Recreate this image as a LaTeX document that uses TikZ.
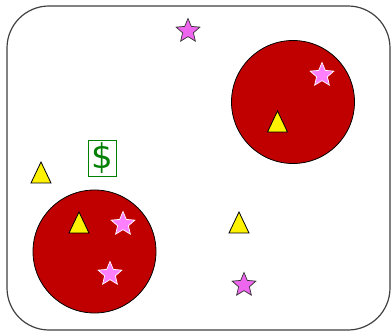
\documentclass[tikz,border=0pt]{standalone}
\usepackage{fontspec}
\newfontfamily\dollarfont{DejaVu Sans}
\usetikzlibrary{shapes.geometric}
\definecolor{cellred}{RGB}{192,0,0}
\definecolor{starpink}{RGB}{238,102,238}
\definecolor{starlight}{RGB}{255,128,255}
\definecolor{money}{RGB}{0,128,0}
\tikzset{
  frame/.style={draw=black!75, line width=1.2pt, rounded corners=42pt, fill=white},
  cell/.style={circle, draw=black, line width=0.8pt, fill=cellred, minimum size=123pt, inner sep=0pt},
  starout/.style={star, star points=5, star point ratio=2.2, minimum size=25pt, inner sep=0pt, fill=starpink, draw=black!80, line width=0.7pt},
  starin/.style={star, star points=5, star point ratio=2.2, minimum size=25pt, inner sep=0pt, fill=starlight, draw=white, line width=0.7pt},
  tri/.style={fill=yellow, draw=black, line width=0.8pt, line join=miter},
  dollarbox/.style={draw=money, line width=0.8pt, minimum width=28pt, minimum height=36pt, inner sep=0pt},
  dollar/.style={text=money, inner sep=0pt, font=\dollarfont\fontsize{34}{36}\selectfont}
}
\begin{document}
\begin{tikzpicture}[x=1pt,y=-1pt]
\useasboundingbox (0,0) rectangle (391,331);
\path[frame] (7,6) rectangle (390,330);
\node[cell] (c1) at (94.5,251.5) {};
\node[cell] (c2) at (293,102) {};
\node[dollarbox] (d) at (102.5,158.5) {};
\node[dollar] (dt) at (d.center) {\$};
% triangles
\foreach \n/\x/\y in {t1/41/162, t2/79/212, t3/277.5/111, t4/239/212}{
  \coordinate (\n) at (\x,\y);
  \draw[tri] (\n) -- ++(10,21) -- ++(-20,0) -- cycle;
}
\node[starout] (s1) at (188,31) {};
\node[starout] (s5) at (244,285) {};
\node[starin] (s2) at (322,75) {};
\node[starin] (s3) at (123,224) {};
\node[starin] (s4) at (110,274) {};
\end{tikzpicture}
\end{document}
